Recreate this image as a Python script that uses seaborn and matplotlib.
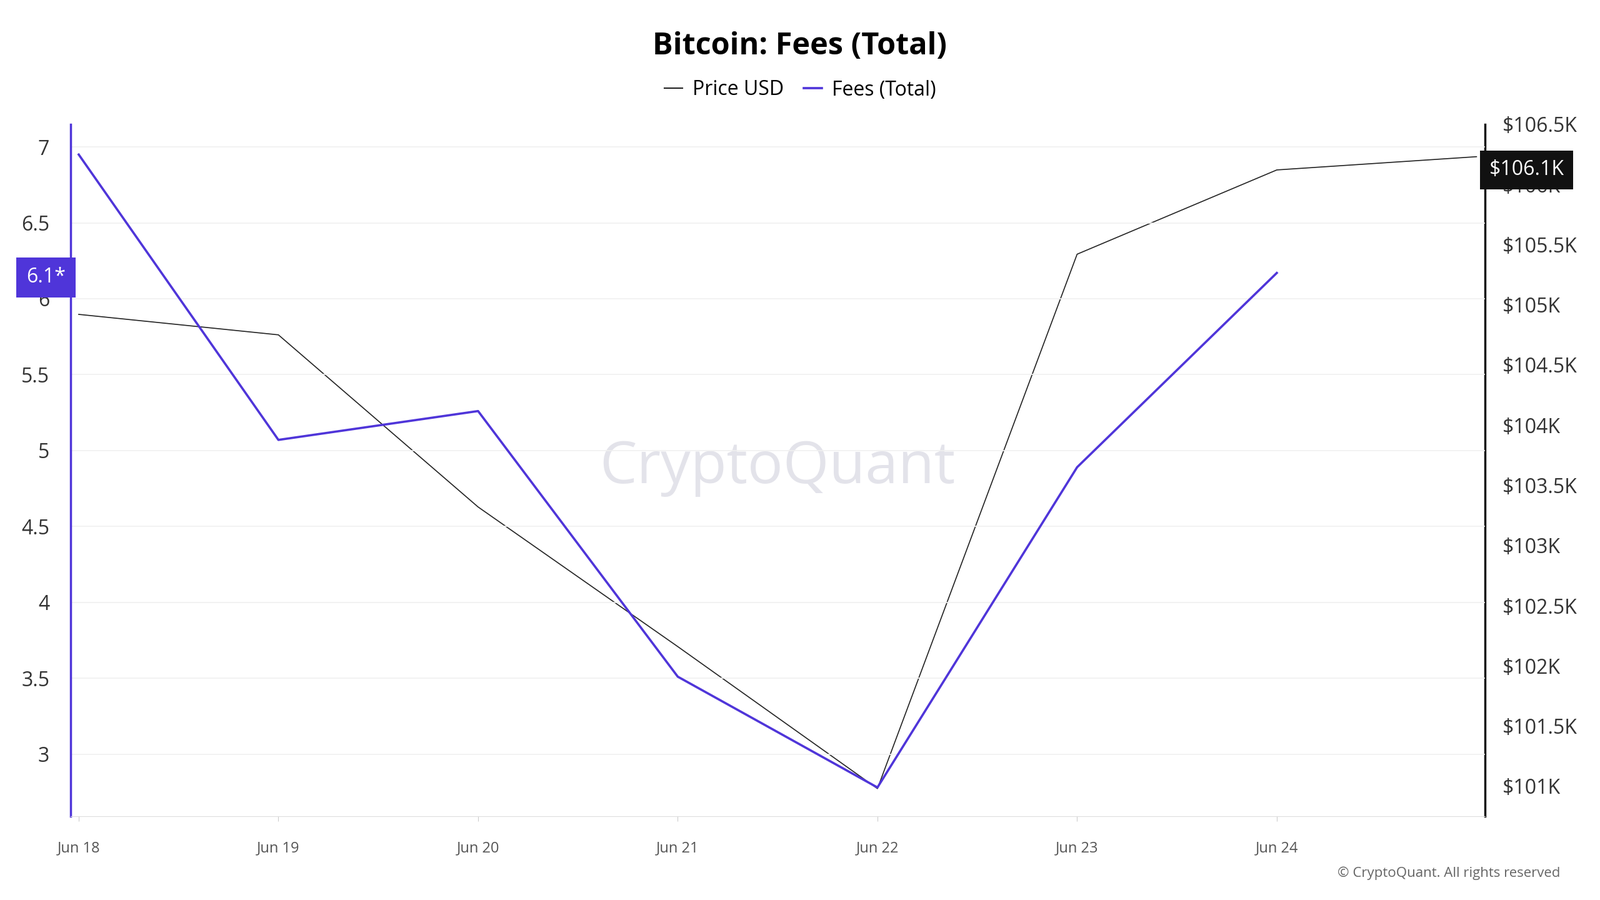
import pandas as pd
import seaborn as sns
import matplotlib.pyplot as plt
from matplotlib.ticker import FuncFormatter

dates = pd.to_datetime(['2025-06-18', '2025-06-19', '2025-06-20', '2025-06-21',
                        '2025-06-22', '2025-06-23', '2025-06-24', '2025-06-25'])
price = [104920, 104750, 103320, 102160, 100980, 105420, 106120, 106230]
fee_dates = dates[:7]
fees = [6.95, 5.07, 5.26, 3.51, 2.78, 4.89, 6.17]
tick_labels = ['Jun 18', 'Jun 19', 'Jun 20', 'Jun 21', 'Jun 22', 'Jun 23', 'Jun 24']

plt.rcParams['font.family'] = 'Open Sans'
fig = plt.figure(figsize=(25.6, 14.4), dpi=100)
ax = fig.add_axes([0.044, 0.093, 0.884, 0.769])
ax2 = ax.twinx()

sns.lineplot(x=dates, y=price, ax=ax2, color='#222222', linewidth=1.2)
sns.lineplot(x=fee_dates, y=fees, ax=ax, color='#4f35d9', linewidth=2.6)
ax.set_zorder(ax2.get_zorder() + 1)
ax.patch.set_visible(False)

ax.set_xlim(dates[0] - pd.Timedelta(hours=1), dates[-1] + pd.Timedelta(hours=1))
ax.set_ylim(2.59, 7.15)
ax2.set_ylim(100750, 106500)
ax.set_xticks(fee_dates)
ax.set_xticklabels(tick_labels, fontsize=17, color='#555555')
ax.set_yticks([3, 3.5, 4, 4.5, 5, 5.5, 6, 6.5, 7])
ax.set_yticklabels(['3', '3.5', '4', '4.5', '5', '5.5', '6', '6.5', '7'], fontsize=23, color='#333333')
ax2.set_yticks([101000 + 500 * i for i in range(12)])
ax2.yaxis.set_major_formatter(FuncFormatter(lambda v, p: f'${v/1000:g}K'))
ax2.tick_params(axis='y', labelsize=23, labelcolor='#333333', length=0, pad=20)
ax.tick_params(axis='y', length=0, pad=24)
ax.tick_params(axis='x', length=6, color='#cccccc', pad=22)
ax.grid(axis='y', color='#f0f0f0', linewidth=1.2)
ax.set_xlabel('')
ax.set_ylabel('')
ax2.set_ylabel('')
for a in (ax, ax2):
    for s in a.spines.values():
        s.set_visible(False)
ax.spines['left'].set_visible(True)
ax.spines['left'].set_color('#4f35d9')
ax.spines['left'].set_linewidth(2.5)
ax2.spines['right'].set_visible(True)
ax2.spines['right'].set_color('#111111')
ax2.spines['right'].set_linewidth(2.5)
ax.spines['bottom'].set_visible(True)
ax.spines['bottom'].set_color('#dddddd')

ax.text(-0.0035, 6.14, '6.1*', transform=ax.get_yaxis_transform(), ha='right', va='center',
        fontsize=23, color='white', bbox=dict(boxstyle='square,pad=0.5', fc='#4f35d9', ec='none'))
ax2.text(1.003, 106120, '$106.1K', transform=ax2.get_yaxis_transform(), ha='left', va='center',
         fontsize=23, color='white', bbox=dict(boxstyle='square,pad=0.45', fc='#111111', ec='none'))

fig.text(0.5, 0.948, 'Bitcoin: Fees (Total)', ha='center', va='center', fontsize=35, fontweight='bold')
fig.legend(handles=[plt.Line2D([], [], color='#222222', lw=1.5), plt.Line2D([], [], color='#4f35d9', lw=2.6)],
           labels=['Price USD', 'Fees (Total)'], loc='center', bbox_to_anchor=(0.5, 0.9), ncol=2,
           frameon=False, fontsize=23, handlelength=0.9, handletextpad=0.5, columnspacing=1.0)
fig.text(0.486, 0.48, 'CryptoQuant', ha='center', va='center', fontsize=68, color='#e3e3ea', zorder=0)
fig.text(0.975, 0.03, '© CryptoQuant. All rights reserved', ha='right', va='center', fontsize=16, color='#666666')
fig.savefig('out.png')
